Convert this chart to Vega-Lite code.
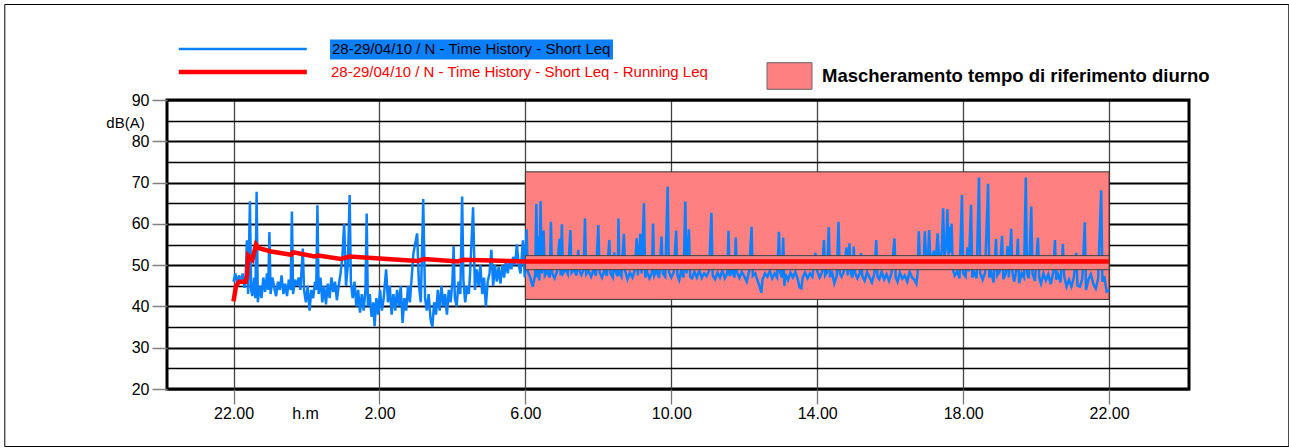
{
  "$schema": "https://vega.github.io/schema/vega-lite/v6.json",
  "width": 1022,
  "height": 289,
  "autosize": {"type": "none"},
  "padding": {"left": 167, "top": 100, "right": 100, "bottom": 59},
  "background": "white",
  "config": {
    "font": "Liberation Sans",
    "view": {"stroke": "#000000", "strokeWidth": 3}
  },
  "datasets": {
    "mask": [{"t1": 480, "t2": 1440, "lo": 41.7, "hi": 72.6}],
    "band": [{"t1": 480, "t2": 1440, "lo": 48.9, "hi": 52.3}],
    "red": [
      {"t":0,"v":41.2},{"t":4,"v":44.8},{"t":9,"v":46},{"t":20,"v":46},{"t":22,"v":47.3},{"t":24,"v":52.3},{"t":31,"v":51.3},{"t":37,"v":55},{"t":42,"v":54.1},{"t":62,"v":53.3},{"t":95,"v":52.5},{"t":98,"v":53.1},{"t":133,"v":52.1},{"t":139,"v":52.3},{"t":177,"v":51.5},{"t":191,"v":52.1},{"t":240,"v":51.6},{"t":303,"v":51},{"t":314,"v":51.5},{"t":369,"v":50.9},{"t":377,"v":51.3},{"t":456,"v":51},{"t":480,"v":50.9},{"t":1440,"v":50.9}
    ],
    "blue": [
      {"t":0,"v":46},{"t":3,"v":48},{"t":6,"v":45.5},{"t":9,"v":47.5},{"t":12,"v":46},{"t":15,"v":48},{"t":18,"v":44.5},{"t":20,"v":47},{"t":22,"v":56},{"t":24,"v":43},{"t":27,"v":65.5},{"t":29,"v":44},{"t":31,"v":42.5},{"t":34,"v":47},{"t":36,"v":42},{"t":38,"v":67.8},{"t":40,"v":41},{"t":43,"v":45},{"t":46,"v":42},{"t":49,"v":47},{"t":52,"v":43.5},{"t":55,"v":48},{"t":57,"v":44},{"t":59,"v":58},{"t":61,"v":43},{"t":64,"v":47},{"t":67,"v":44.5},{"t":70,"v":42.5},{"t":73,"v":46},{"t":76,"v":44},{"t":79,"v":47.5},{"t":82,"v":43},{"t":85,"v":45.5},{"t":88,"v":42.5},{"t":91,"v":46.5},{"t":94,"v":44},{"t":96,"v":63},{"t":98,"v":43},{"t":101,"v":46.5},{"t":104,"v":45},{"t":107,"v":47},{"t":110,"v":44},{"t":112,"v":49},{"t":114,"v":54},{"t":116,"v":44},{"t":119,"v":41},{"t":122,"v":45},{"t":125,"v":39},{"t":128,"v":44},{"t":131,"v":42},{"t":134,"v":46},{"t":136,"v":44},{"t":138,"v":64.5},{"t":140,"v":43},{"t":143,"v":47},{"t":146,"v":41},{"t":149,"v":45},{"t":152,"v":40.5},{"t":155,"v":45.5},{"t":158,"v":42},{"t":161,"v":47},{"t":164,"v":43.5},{"t":167,"v":46},{"t":170,"v":41.5},{"t":173,"v":45},{"t":176,"v":48},{"t":179,"v":52},{"t":182,"v":60},{"t":185,"v":45},{"t":188,"v":50},{"t":191,"v":67},{"t":193,"v":46},{"t":196,"v":42},{"t":199,"v":46},{"t":202,"v":40},{"t":205,"v":44},{"t":208,"v":38.5},{"t":211,"v":43},{"t":214,"v":39},{"t":217,"v":44},{"t":219,"v":62.5},{"t":221,"v":40},{"t":224,"v":43},{"t":227,"v":37.5},{"t":230,"v":41},{"t":232,"v":35.2},{"t":235,"v":42},{"t":238,"v":38},{"t":241,"v":44},{"t":244,"v":39},{"t":247,"v":42},{"t":251,"v":49},{"t":254,"v":41},{"t":257,"v":45},{"t":260,"v":38},{"t":263,"v":43},{"t":266,"v":39},{"t":269,"v":44},{"t":272,"v":40},{"t":275,"v":45},{"t":278,"v":36},{"t":281,"v":42},{"t":284,"v":39},{"t":287,"v":45},{"t":290,"v":41},{"t":293,"v":47},{"t":296,"v":53},{"t":299,"v":55.3},{"t":302,"v":57.7},{"t":305,"v":45},{"t":308,"v":41},{"t":312,"v":66},{"t":315,"v":42},{"t":318,"v":39},{"t":321,"v":43},{"t":324,"v":37},{"t":327,"v":35},{"t":330,"v":41},{"t":333,"v":38},{"t":336,"v":44},{"t":339,"v":39},{"t":342,"v":45},{"t":345,"v":40},{"t":348,"v":43},{"t":351,"v":38},{"t":354,"v":44},{"t":357,"v":41},{"t":360,"v":46},{"t":362,"v":54.7},{"t":364,"v":42},{"t":367,"v":40},{"t":370,"v":46},{"t":373,"v":43},{"t":376,"v":66.6},{"t":378,"v":46.5},{"t":381,"v":41},{"t":384,"v":45},{"t":387,"v":43},{"t":389,"v":48},{"t":394,"v":64},{"t":397,"v":44},{"t":400,"v":49},{"t":403,"v":45},{"t":406,"v":50},{"t":409,"v":43},{"t":412,"v":47},{"t":415,"v":40},{"t":418,"v":46},{"t":421,"v":48},{"t":424,"v":53.7},{"t":427,"v":45},{"t":430,"v":50},{"t":433,"v":46},{"t":436,"v":49.5},{"t":439,"v":45.5},{"t":442,"v":50},{"t":445,"v":47},{"t":448,"v":51},{"t":451,"v":48},{"t":454,"v":51},{"t":457,"v":49},{"t":460,"v":52},{"t":463,"v":50},{"t":466,"v":55},{"t":469,"v":50},{"t":472,"v":48},{"t":476,"v":56},{"t":479,"v":47},
      {"t":482,"v":58.7},{"t":484,"v":48.5},{"t":488,"v":47},{"t":492,"v":44.8},{"t":496,"v":47.5},{"t":498,"v":64.8},{"t":500,"v":47},{"t":501,"v":57},{"t":503,"v":46.3},{"t":505,"v":65.5},{"t":507,"v":48},{"t":510,"v":58.4},{"t":512,"v":47.5},{"t":516,"v":48.5},{"t":520,"v":47},{"t":522,"v":60.5},{"t":524,"v":48},{"t":528,"v":46.8},{"t":532,"v":48.5},{"t":536,"v":56.4},{"t":538,"v":47.5},{"t":540,"v":59.9},{"t":542,"v":48},{"t":546,"v":49},{"t":550,"v":47.8},{"t":554,"v":58.5},{"t":556,"v":48.2},{"t":560,"v":49},{"t":564,"v":47.5},{"t":567,"v":53.7},{"t":569,"v":48.5},{"t":572,"v":47.6},{"t":576,"v":49},{"t":578,"v":61.3},{"t":580,"v":47.8},{"t":584,"v":48.6},{"t":588,"v":47.2},{"t":592,"v":48.8},{"t":596,"v":47.5},{"t":600,"v":59.7},{"t":602,"v":48.3},{"t":606,"v":47},{"t":610,"v":48.8},{"t":614,"v":47.4},{"t":618,"v":56.1},{"t":620,"v":48},{"t":624,"v":47},{"t":626,"v":53.1},{"t":628,"v":48.5},{"t":632,"v":47.3},{"t":633,"v":61.3},{"t":635,"v":48},{"t":638,"v":47.2},{"t":642,"v":57.6},{"t":644,"v":48.6},{"t":648,"v":46.6},{"t":652,"v":48.2},{"t":656,"v":47},{"t":660,"v":48.8},{"t":663,"v":56.5},{"t":665,"v":47.5},{"t":669,"v":57.6},{"t":671,"v":48},{"t":675,"v":65},{"t":677,"v":47},{"t":680,"v":48.5},{"t":684,"v":46.8},{"t":688,"v":48},{"t":690,"v":60.1},{"t":692,"v":47.5},{"t":696,"v":48.6},{"t":700,"v":46.9},{"t":704,"v":56.9},{"t":706,"v":48},{"t":710,"v":47.2},{"t":714,"v":69},{"t":716,"v":48.4},{"t":720,"v":47},{"t":724,"v":48.3},{"t":728,"v":58.4},{"t":730,"v":47.6},{"t":733,"v":46.4},{"t":736,"v":48.5},{"t":740,"v":47},{"t":743,"v":65.4},{"t":745,"v":48},{"t":749,"v":58.7},{"t":751,"v":47.2},{"t":754,"v":46.8},{"t":758,"v":48.4},{"t":762,"v":47},{"t":766,"v":48.8},{"t":770,"v":46.9},{"t":774,"v":48},{"t":778,"v":47.3},{"t":782,"v":48.6},{"t":786,"v":62.7},{"t":788,"v":47.5},{"t":792,"v":46.6},{"t":796,"v":48.2},{"t":800,"v":47},{"t":804,"v":48.7},{"t":808,"v":46.8},{"t":812,"v":48},{"t":814,"v":58.3},{"t":816,"v":47.4},{"t":820,"v":48.6},{"t":824,"v":47},{"t":826,"v":56.7},{"t":828,"v":48.2},{"t":832,"v":46.9},{"t":836,"v":48.4},{"t":840,"v":47.3},{"t":844,"v":46},{"t":848,"v":48.5},{"t":852,"v":59.3},{"t":854,"v":47.4},{"t":858,"v":48},{"t":862,"v":46.2},{"t":866,"v":44.5},{"t":868,"v":43.3},{"t":870,"v":46.5},{"t":874,"v":48},{"t":878,"v":47.2},{"t":882,"v":48.6},{"t":886,"v":46.8},{"t":890,"v":48},{"t":894,"v":47},{"t":897,"v":58.1},{"t":899,"v":48.3},{"t":902,"v":47},{"t":904,"v":56.7},{"t":906,"v":45},{"t":908,"v":47.8},{"t":912,"v":46.4},{"t":916,"v":48.2},{"t":920,"v":47},{"t":924,"v":48.4},{"t":928,"v":46.5},{"t":931,"v":44.6},{"t":934,"v":44.4},{"t":936,"v":47},{"t":940,"v":48.2},{"t":944,"v":46.8},{"t":948,"v":48},{"t":952,"v":47.2},{"t":957,"v":53},{"t":960,"v":48.5},{"t":964,"v":47},{"t":968,"v":48.3},{"t":971,"v":56.1},{"t":973,"v":47.5},{"t":976,"v":48.2},{"t":979,"v":59.2},{"t":981,"v":47},{"t":984,"v":48.6},{"t":988,"v":45.6},{"t":992,"v":47.3},{"t":995,"v":60.5},{"t":997,"v":48},{"t":1000,"v":47.2},{"t":1004,"v":48.6},{"t":1008,"v":54.3},{"t":1010,"v":47.5},{"t":1013,"v":55.3},{"t":1015,"v":48},{"t":1018,"v":47},{"t":1020,"v":54.5},{"t":1022,"v":48.2},{"t":1026,"v":46.8},{"t":1030,"v":48},{"t":1032,"v":52.9},{"t":1034,"v":47.4},{"t":1038,"v":46.2},{"t":1042,"v":48.3},{"t":1046,"v":47},{"t":1050,"v":45.8},{"t":1054,"v":48},{"t":1057,"v":56.1},{"t":1059,"v":47.3},{"t":1062,"v":46.6},{"t":1066,"v":48.4},{"t":1070,"v":46.5},{"t":1074,"v":47.8},{"t":1078,"v":46.2},{"t":1082,"v":48},{"t":1087,"v":56.5},{"t":1089,"v":47},{"t":1092,"v":46},{"t":1096,"v":48.2},{"t":1100,"v":46.7},{"t":1104,"v":47.5},{"t":1108,"v":46},{"t":1112,"v":48.4},{"t":1116,"v":47},{"t":1120,"v":46.4},{"t":1123,"v":45.5},{"t":1125,"v":48},{"t":1127,"v":58.2},{"t":1129,"v":50.5},{"t":1132,"v":51},{"t":1135,"v":50.5},{"t":1137,"v":58.2},{"t":1139,"v":51.3},{"t":1142,"v":50.6},{"t":1144,"v":58.5},{"t":1146,"v":51.5},{"t":1149,"v":52},{"t":1152,"v":53.5},{"t":1155,"v":51},{"t":1158,"v":57.7},{"t":1160,"v":52.5},{"t":1163,"v":51.5},{"t":1165,"v":54},{"t":1167,"v":63.8},{"t":1169,"v":52},{"t":1172,"v":54.5},{"t":1174,"v":63.5},{"t":1176,"v":52.5},{"t":1178,"v":59.3},{"t":1179,"v":53},{"t":1181,"v":60.1},{"t":1183,"v":49},{"t":1186,"v":47.5},{"t":1190,"v":48.5},{"t":1194,"v":46.8},{"t":1198,"v":67},{"t":1200,"v":48},{"t":1204,"v":47.2},{"t":1207,"v":54.3},{"t":1209,"v":48.5},{"t":1213,"v":64.6},{"t":1215,"v":47},{"t":1218,"v":48.3},{"t":1222,"v":46.8},{"t":1226,"v":71.2},{"t":1228,"v":48},{"t":1232,"v":46.5},{"t":1236,"v":48.2},{"t":1241,"v":69.7},{"t":1243,"v":47},{"t":1246,"v":48.4},{"t":1250,"v":45.8},{"t":1254,"v":56.3},{"t":1256,"v":47.5},{"t":1260,"v":48.5},{"t":1264,"v":57.1},{"t":1266,"v":46.6},{"t":1270,"v":48},{"t":1273,"v":54.6},{"t":1275,"v":47},{"t":1279,"v":58.8},{"t":1281,"v":48.2},{"t":1284,"v":46},{"t":1287,"v":48.5},{"t":1290,"v":56.4},{"t":1292,"v":45.6},{"t":1296,"v":48},{"t":1300,"v":47},{"t":1303,"v":71.2},{"t":1305,"v":48},{"t":1308,"v":46.8},{"t":1312,"v":64.2},{"t":1314,"v":48},{"t":1318,"v":46.2},{"t":1323,"v":56.7},{"t":1325,"v":47},{"t":1328,"v":45.5},{"t":1332,"v":48},{"t":1336,"v":46.3},{"t":1340,"v":47.8},{"t":1344,"v":45.4},{"t":1348,"v":48.2},{"t":1351,"v":56.1},{"t":1353,"v":46.5},{"t":1356,"v":47.8},{"t":1360,"v":45.8},{"t":1364,"v":55.1},{"t":1366,"v":47.5},{"t":1370,"v":44.8},{"t":1374,"v":46.5},{"t":1378,"v":44.8},{"t":1382,"v":47},{"t":1386,"v":53},{"t":1388,"v":45},{"t":1392,"v":44.8},{"t":1396,"v":46.8},{"t":1400,"v":60.4},{"t":1402,"v":44},{"t":1406,"v":46.5},{"t":1410,"v":47.8},{"t":1414,"v":45.5},{"t":1418,"v":44.3},{"t":1422,"v":46.8},{"t":1427,"v":68.1},{"t":1429,"v":46},{"t":1432,"v":47.3},{"t":1436,"v":43.6},{"t":1440,"v":44}
    ]
  },
  "layer": [
    {
      "data": {"name": "mask"},
      "mark": {"type": "rect", "stroke": "#333333", "strokeWidth": 1},
      "encoding": {
        "x": {"field": "t1", "type": "quantitative", "title": "h.m",
          "scale": {"domain": [-109.4, 1571.4], "nice": false, "zero": false},
          "axis": {
            "values": [0, 240, 480, 720, 960, 1200, 1440],
            "tickCount": 40,
            "labelExpr": "((datum.value / 60 + 22) % 24) + '.00'",
            "grid": true, "gridColor": "#444444", "gridWidth": 1.3,
            "domain": false,
            "tickSize": 15, "tickColor": "#777777", "tickWidth": 1.3,
            "labelFontSize": 16, "labelColor": "#000000", "labelPadding": 1,
            "labelFont": "Liberation Sans",
            "title": "h.m", "titleX": 138, "titleY": 16, "titleAlign": "center", "titleBaseline": "top",
            "titleFontSize": 16, "titleFontWeight": "normal", "titleColor": "#000000", "titleFont": "Liberation Sans"
          }
        },
        "x2": {"field": "t2"},
        "y": {"field": "lo", "type": "quantitative", "title": "dB(A)",
          "scale": {"domain": [20, 90], "nice": false, "zero": false},
          "axis": {
            "values": [20, 25, 30, 35, 40, 45, 50, 55, 60, 65, 70, 75, 80, 85, 90],
            "tickCount": 40,
            "labelExpr": "datum.value % 10 === 0 ? datum.label : ''",
            "grid": true, "gridColor": "#000000",
            "gridWidth": {"condition": {"test": "datum.value % 10 === 0", "value": 2}, "value": 1.6},
            "domain": false,
            "tickSize": 15,
            "tickColor": {"condition": {"test": "datum.value % 10 === 0", "value": "#808080"}, "value": "rgba(0,0,0,0)"},
            "tickWidth": 1.5,
            "labelFontSize": 16, "labelColor": "#000000", "labelPadding": 3, "labelFont": "Liberation Sans",
            "title": "dB(A)", "titleAngle": 0, "titleX": -42, "titleY": 22.5, "titleAlign": "center", "titleBaseline": "middle",
            "titleFontSize": 15, "titleFontWeight": "normal", "titleColor": "#000000", "titleFont": "Liberation Sans"
          }
        },
        "y2": {"field": "hi"},
        "fill": {
          "datum": "Mascheramento tempo di riferimento diurno",
          "scale": {"range": ["#ff8080"]},
          "legend": {
            "orient": "none", "legendX": 599.5, "legendY": -47, "title": null, "padding": 0,
            "symbolType": "M-1,-0.591H1V0.591H-1Z", "symbolSize": 2025,
            "symbolStrokeColor": "#666666", "symbolStrokeWidth": 1, "symbolOpacity": 1,
            "labelOffset": 9.5, "labelFontSize": 18.5, "labelFontWeight": "bold", "labelColor": "#000000",
            "labelFont": "Liberation Sans", "labelLimit": 600
          }
        }
      }
    },
    {
      "data": {"name": "blue"},
      "mark": {"type": "line", "strokeWidth": 2.5},
      "encoding": {
        "x": {"field": "t", "type": "quantitative", "title": "h.m"},
        "y": {"field": "v", "type": "quantitative", "title": "dB(A)"},
        "color": {
          "datum": "28-29/04/10 / N - Time History - Short Leq",
          "scale": {"range": ["#0a80ff"]},
          "legend": {
            "orient": "none", "legendX": 10.3, "legendY": -116.5, "title": null, "padding": 0,
            "symbolType": "stroke", "symbolSize": 16384, "symbolStrokeWidth": 2.5,
            "labelExpr": "''"
          }
        },
        "strokeDash": {
          "datum": "hl",
          "scale": {"range": [[1, 0]]},
          "legend": {
            "orient": "none", "legendX": 163, "legendY": -60.5, "title": null, "padding": 2,
            "fillColor": "#0a80ff",
            "symbolSize": 0, "symbolStrokeWidth": 0, "symbolOpacity": 0,
            "labelOffset": -15, "labelFontSize": 15, "labelColor": "#000000", "labelFont": "Liberation Sans",
            "labelLimit": 600,
            "labelExpr": "'28-29/04/10 / N - Time History - Short Leq'"
          }
        }
      }
    },
    {
      "data": {"name": "band"},
      "mark": {"type": "rect", "fill": "#ff8080", "stroke": "#404040", "strokeWidth": 1},
      "encoding": {
        "x": {"field": "t1", "type": "quantitative", "title": "h.m"},
        "x2": {"field": "t2"},
        "y": {"field": "lo", "type": "quantitative", "title": "dB(A)"},
        "y2": {"field": "hi"},
        "opacity": {
          "datum": "frame",
          "scale": {"range": [1, 1]},
          "legend": {
            "orient": "none", "legendX": -162.7, "legendY": -96, "title": null, "padding": 0,
            "strokeColor": "#000000",
            "symbolType": "M-1,-1L4.8086,1", "symbolSize": 195364, "symbolStrokeWidth": 0,
            "symbolFillColor": "rgba(0,0,0,0)", "symbolStrokeColor": "rgba(0,0,0,0)",
            "labelExpr": "''", "labelFontSize": 10, "labelOffset": 0,
            "encode": {
              "legend": {"update": {"strokeWidth": {"value": 3.5}}}
            }
          }
        }
      }
    },
    {
      "data": {"name": "red"},
      "mark": {"type": "line", "strokeWidth": 4.5},
      "encoding": {
        "x": {"field": "t", "type": "quantitative", "title": "h.m"},
        "y": {"field": "v", "type": "quantitative", "title": "dB(A)"},
        "stroke": {
          "datum": "28-29/04/10 / N - Time History - Short Leq - Running Leq",
          "scale": {"range": ["#ff0000"]},
          "legend": {
            "orient": "none", "legendX": 9.3, "legendY": -94.5, "title": null, "padding": 0,
            "symbolType": "stroke", "symbolSize": 16384, "symbolStrokeWidth": 4.6,
            "labelOffset": 21.7, "labelFontSize": 15, "labelColor": "#ff0000", "labelFont": "Liberation Sans",
            "labelLimit": 600
          }
        }
      }
    }
  ]
}
